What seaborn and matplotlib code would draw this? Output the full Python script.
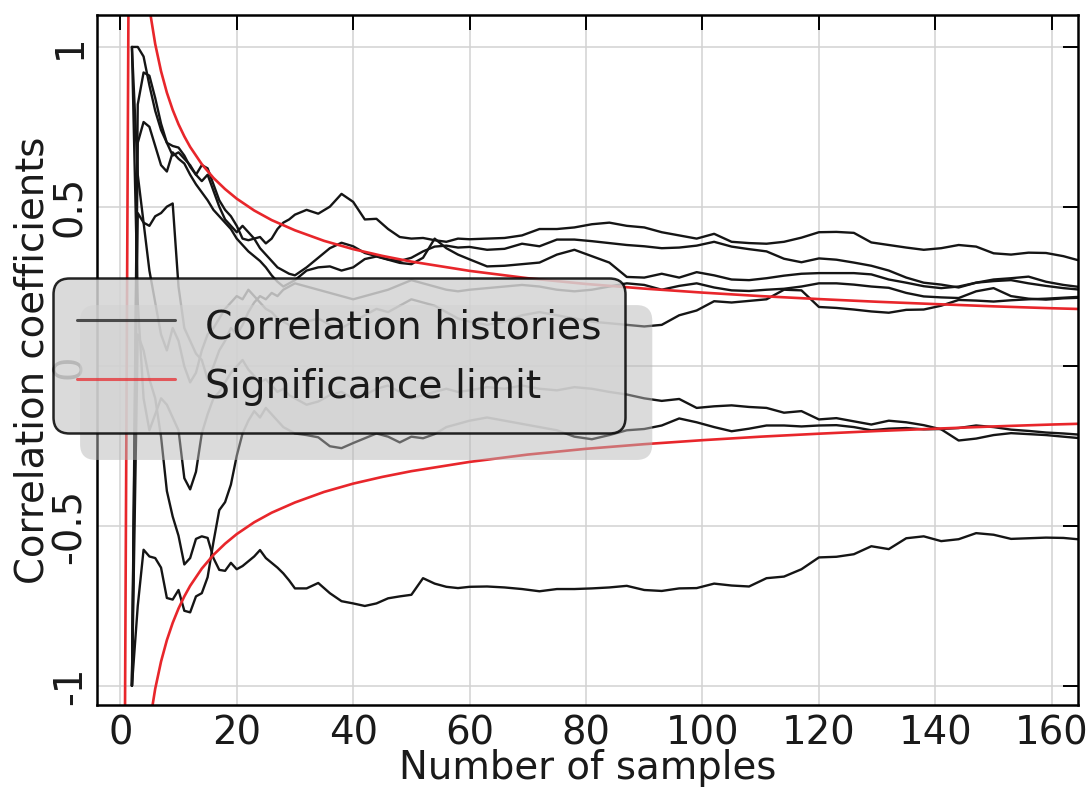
import matplotlib
matplotlib.use("Agg")
import matplotlib.pyplot as plt
import pandas as pd
import seaborn as sns

# ---------------- data ----------------
n_samples = [2, 3, 4, 5, 6, 7, 8, 9, 10, 11, 12, 13, 14, 15, 16, 17, 18, 19, 20,
             21, 22, 23, 24, 25, 26, 27, 28, 29, 30,
             32, 34, 36, 38, 40, 42, 44, 46, 48, 50, 52, 54, 56, 58, 60,
             63, 66, 69, 72, 75, 78, 81, 84, 87, 90, 93, 96, 99,
             102, 105, 108, 111, 114, 117, 120, 123, 126, 129, 132, 135, 138,
             141, 144, 147, 150, 153, 156, 159, 162, 165]

corr_a = [1.00, 1.00, 0.97, 0.88, 0.80, 0.74, 0.70, 0.69, 0.685, 0.66, 0.625, 0.60, 0.63, 0.62,
          0.57, 0.52, 0.49, 0.47, 0.44, 0.40, 0.395, 0.40, 0.405, 0.385, 0.40, 0.43, 0.45, 0.46, 0.475,
          0.49, 0.478, 0.50, 0.54, 0.515, 0.46, 0.462, 0.43, 0.405, 0.40, 0.402, 0.395, 0.39, 0.40, 0.398,
          0.40, 0.402, 0.41, 0.43, 0.43, 0.435, 0.445, 0.45, 0.44, 0.435, 0.42, 0.41, 0.40,
          0.415, 0.39, 0.386, 0.384, 0.39, 0.403, 0.42, 0.421, 0.418, 0.388, 0.38, 0.372, 0.365,
          0.37, 0.38, 0.375, 0.354, 0.35, 0.356, 0.355, 0.345, 0.33]

corr_b = [-1.00, 0.82, 0.92, 0.91, 0.84, 0.76, 0.70, 0.66, 0.67, 0.65, 0.63, 0.60, 0.58, 0.60,
          0.55, 0.50, 0.46, 0.44, 0.42, 0.44, 0.42, 0.40, 0.37, 0.35, 0.33, 0.31, 0.30, 0.29, 0.285,
          0.31, 0.34, 0.37, 0.387, 0.376, 0.355, 0.345, 0.335, 0.33, 0.34, 0.36, 0.375, 0.378, 0.372, 0.374,
          0.365, 0.368, 0.384, 0.376, 0.397, 0.397, 0.392, 0.386, 0.38, 0.376, 0.37, 0.372, 0.378,
          0.39, 0.375, 0.367, 0.36, 0.337, 0.326, 0.338, 0.334, 0.325, 0.315, 0.30, 0.278, 0.262,
          0.256, 0.247, 0.262, 0.272, 0.276, 0.281, 0.265, 0.255, 0.248]

corr_c = [-1.00, 0.70, 0.765, 0.75, 0.69, 0.63, 0.61, 0.67, 0.65, 0.635, 0.60, 0.57, 0.545, 0.52,
          0.49, 0.47, 0.45, 0.43, 0.40, 0.38, 0.36, 0.345, 0.33, 0.31, 0.285, 0.265, 0.25, 0.26, 0.27,
          0.30, 0.31, 0.313, 0.30, 0.31, 0.336, 0.344, 0.334, 0.324, 0.32, 0.34, 0.40, 0.37, 0.35, 0.335,
          0.313, 0.315, 0.32, 0.325, 0.35, 0.365, 0.345, 0.325, 0.28, 0.278, 0.29, 0.278, 0.295,
          0.285, 0.272, 0.27, 0.276, 0.284, 0.29, 0.292, 0.292, 0.292, 0.288, 0.272, 0.262, 0.251,
          0.245, 0.25, 0.262, 0.267, 0.27, 0.26, 0.252, 0.245, 0.24]

corr_d = [-1.00, 0.48, 0.45, 0.44, 0.47, 0.48, 0.50, 0.51, 0.25, 0.12, 0.08, 0.04, 0.02, -0.04,
          0.00, 0.05, 0.08, 0.12, 0.10, 0.13, 0.17, 0.20, 0.22, 0.21, 0.23, 0.22, 0.24, 0.25, 0.26,
          0.25, 0.24, 0.23, 0.22, 0.21, 0.22, 0.23, 0.24, 0.255, 0.27, 0.26, 0.25, 0.24, 0.235, 0.24,
          0.245, 0.25, 0.255, 0.25, 0.24, 0.235, 0.24, 0.25, 0.26, 0.255, 0.24, 0.252, 0.26,
          0.247, 0.238, 0.236, 0.24, 0.243, 0.25, 0.26, 0.26, 0.256, 0.25, 0.246, 0.23, 0.219,
          0.216, 0.214, 0.235, 0.245, 0.22, 0.212, 0.209, 0.213, 0.215]

corr_e = [1.00, 0.60, 0.45, 0.30, 0.20, 0.10, 0.05, 0.12, 0.08, 0.00, -0.05, -0.02, 0.05, 0.10,
          0.12, 0.15, 0.18, 0.20, 0.22, 0.21, 0.24, 0.22, 0.20, 0.18, 0.17, 0.15, 0.14, 0.13, 0.12,
          0.14, 0.15, 0.13, 0.12, 0.14, 0.16, 0.18, 0.17, 0.19, 0.21, 0.20, 0.19, 0.17, 0.15, 0.14,
          0.13, 0.14, 0.16, 0.17, 0.16, 0.15, 0.14, 0.135, 0.13, 0.125, 0.13, 0.16, 0.175,
          0.204, 0.20, 0.205, 0.21, 0.24, 0.238, 0.186, 0.183, 0.178, 0.172, 0.168, 0.177, 0.178,
          0.19, 0.208, 0.206, 0.203, 0.207, 0.21, 0.212, 0.215, 0.218]

corr_f = [1.00, 0.20, -0.10, -0.20, -0.15, -0.10, -0.12, -0.16, -0.20, -0.35, -0.385, -0.33, -0.21, -0.15,
          -0.10, -0.08, -0.05, -0.02, 0.00, 0.02, -0.01, -0.03, -0.05, -0.04, -0.06, -0.08, -0.07, -0.09, -0.10,
          -0.12, -0.11, -0.09, -0.08, -0.10, -0.09, -0.07, -0.06, -0.08, -0.10, -0.09, -0.08, -0.07, -0.08, -0.075,
          -0.065, -0.07, -0.06, -0.07, -0.075, -0.065, -0.07, -0.08, -0.088, -0.10, -0.108, -0.102, -0.13,
          -0.125, -0.122, -0.127, -0.13, -0.145, -0.14, -0.166, -0.162, -0.172, -0.182, -0.17, -0.175, -0.184,
          -0.197, -0.232, -0.226, -0.215, -0.209, -0.212, -0.215, -0.22, -0.225]

corr_g = [-1.00, -0.75, -0.574, -0.595, -0.60, -0.63, -0.725, -0.73, -0.70, -0.765, -0.77, -0.72, -0.71, -0.66,
          -0.55, -0.45, -0.425, -0.37, -0.28, -0.21, -0.17, -0.14, -0.16, -0.13, -0.15, -0.17, -0.19, -0.20, -0.21,
          -0.215, -0.222, -0.25, -0.256, -0.24, -0.225, -0.21, -0.22, -0.238, -0.22, -0.225, -0.212, -0.19, -0.18, -0.17,
          -0.16, -0.17, -0.18, -0.19, -0.20, -0.22, -0.228, -0.215, -0.20, -0.196, -0.185, -0.163, -0.175,
          -0.19, -0.203, -0.195, -0.185, -0.185, -0.188, -0.185, -0.184, -0.19, -0.20, -0.195, -0.193, -0.197,
          -0.196, -0.193, -0.185, -0.19, -0.198, -0.202, -0.207, -0.21, -0.214]

corr_h = [-1.00, 0.10, 0.05, -0.04, -0.10, -0.22, -0.39, -0.47, -0.53, -0.62, -0.60, -0.54, -0.532, -0.537,
          -0.60, -0.637, -0.64, -0.615, -0.635, -0.625, -0.61, -0.595, -0.575, -0.60, -0.615, -0.63, -0.648, -0.67, -0.695,
          -0.695, -0.678, -0.71, -0.735, -0.742, -0.75, -0.742, -0.726, -0.72, -0.715, -0.663, -0.68, -0.69, -0.694, -0.69,
          -0.689, -0.692, -0.697, -0.704, -0.697, -0.697, -0.695, -0.692, -0.687, -0.70, -0.703, -0.695, -0.694,
          -0.68, -0.686, -0.689, -0.663, -0.658, -0.635, -0.598, -0.596, -0.588, -0.563, -0.572, -0.538, -0.532,
          -0.547, -0.541, -0.522, -0.527, -0.54, -0.538, -0.536, -0.537, -0.542]

series_names = ["a", "b", "c", "d", "e", "f", "g", "h"]
series_values = [corr_a, corr_b, corr_c, corr_d, corr_e, corr_f, corr_g, corr_h]

# significance limit (magnitude)
limit_n = [2, 3, 4, 5, 6, 7, 8, 9, 10, 11, 12, 14, 16, 18, 20, 23, 26, 30, 35, 40, 45, 50,
           60, 70, 80, 90, 100, 110, 120, 130, 140, 150, 160, 165]
limit_mag = [2.10, 1.55, 1.286, 1.122, 1.009, 0.924, 0.857, 0.803, 0.758, 0.720, 0.687, 0.633,
             0.590, 0.555, 0.525, 0.488, 0.458, 0.426, 0.393, 0.367, 0.346, 0.328, 0.299, 0.276,
             0.258, 0.2435, 0.231, 0.220, 0.2107, 0.2023, 0.195, 0.188, 0.182, 0.1795]
spike_n = [0.75, 1.45]
spike_r = [-1.3, 1.3]

x_ticks = [0, 20, 40, 60, 80, 100, 120, 140, 160]
x_tick_labels = ["0", "20", "40", "60", "80", "100", "120", "140", "160"]
y_ticks = [-1, -0.5, 0, 0.5, 1]
y_tick_labels = ["-1", "-0.5", "0", "0.5", "1"]

legend_labels = ["Correlation histories", "Significance limit"]

# ---------------- tables ----------------
hist = pd.DataFrame({
    "n": [v for _ in series_names for v in n_samples],
    "r": [v for vals in series_values for v in vals],
    "series": [s for s in series_names for _ in n_samples],
})
limits = pd.DataFrame({
    "n": spike_n + limit_n + limit_n,
    "r": spike_r + limit_mag + [-v for v in limit_mag],
    "side": ["upper"] * (len(spike_n) + len(limit_n)) + ["lower"] * len(limit_n),
})

# ---------------- style ----------------
sns.set_theme(style="white")
plt.rcParams["font.family"] = ["DejaVu Sans"]
plt.rcParams["axes.unicode_minus"] = False
FS = 27.8
LFS = 28.3
TXT = "#1a1a1a"

W, H = 1092, 789
fig = plt.figure(figsize=(W / 100, H / 100), dpi=100)
ax = fig.add_axes([97 / W, 1 - 705 / H, (1078 - 97) / W, (705 - 15) / H])

sns.lineplot(data=hist, x="n", y="r", units="series", estimator=None, sort=False,
             color="#151515", linewidth=1.7, legend=False, ax=ax)
sns.lineplot(data=limits, x="n", y="r", units="side", estimator=None, sort=False,
             color="#e8262b", linewidth=1.9, legend=False, ax=ax)

ax.set_xlim(-4, 164.5)
ax.set_ylim(-1.06, 1.10)
ax.set_xticks(x_ticks)
ax.set_xticklabels(x_tick_labels, fontsize=FS, color=TXT)
ax.set_yticks(y_ticks)
ax.set_yticklabels(y_tick_labels, fontsize=FS, color=TXT, rotation=90, va="center")

ax.grid(True, color="#d2d2d2", linewidth=1.1)
ax.set_axisbelow(True)
for sp in ax.spines.values():
    sp.set_visible(True)
    sp.set_color("black")
    sp.set_linewidth(1.8)
ax.tick_params(axis="both", direction="in", top=True, right=True, length=11, width=1.4,
               color="black")
ax.tick_params(axis="x", pad=7)
ax.tick_params(axis="y", pad=6)

ax.set_xlabel("Number of samples", fontsize=FS, color=TXT)
ax.set_ylabel("Correlation coefficients", fontsize=FS, color=TXT)
ax.xaxis.set_label_coords(0.5, -0.064)
ax.yaxis.set_label_coords(-0.046, 0.5)

handles = [ax.lines[0], ax.lines[-1]]
leg = ax.legend(handles, legend_labels, loc="upper left",
                bbox_to_anchor=(53 / W, 1 - 278 / H), bbox_transform=fig.transFigure,
                borderaxespad=0, fontsize=LFS, handlelength=2.5, handleheight=1.5,
                handletextpad=0.75, labelspacing=0.28, borderpad=0.61,
                frameon=True, fancybox=True,
                facecolor="#d4d4d4", edgecolor="black", framealpha=0.85,
                shadow={"ox": 19.5, "oy": -19.5, "facecolor": "#b8b8b8",
                        "edgecolor": "none", "alpha": 0.5})
leg.get_frame().set_linewidth(1.8)
leg.get_frame().set_boxstyle("round", pad=0, rounding_size=0.4)
for t in leg.get_texts():
    t.set_color(TXT)
for h in leg.legend_handles:
    h.set_alpha(0.72)
    h.set_linewidth(2.2)

fig.savefig("out.png", dpi=100)
